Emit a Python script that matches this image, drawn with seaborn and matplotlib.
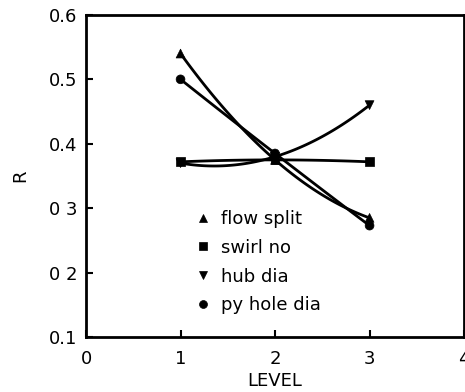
import matplotlib
matplotlib.use("Agg")
import matplotlib.pyplot as plt
import seaborn as sns
import pandas as pd

levels = [1, 2, 3]
flow_split = [0.540, 0.375, 0.285]
swirl_no = [0.372, 0.375, 0.372]
hub_dia = [0.370, 0.380, 0.460]
py_hole_dia = [0.500, 0.385, 0.273]

series_names = ["flow split", "swirl no", "hub dia", "py hole dia"]
series_values = [flow_split, swirl_no, hub_dia, py_hole_dia]
series_markers = ["^", "s", "v", "o"]

y_ticks = [0.1, 0.2, 0.3, 0.4, 0.5, 0.6]
y_tick_labels = ["0.1", "0 2", "0 3", "0.4", "0.5", "0.6"]
x_ticks = [0, 1, 2, 3, 4]

rows = []
for name, vals in zip(series_names, series_values):
    for lv, v in zip(levels, vals):
        rows.append({"LEVEL": lv, "R": v, "factor": name})
df = pd.DataFrame(rows)

sns.set_theme(style="ticks")
plt.rcParams["font.family"] = ["DejaVu Sans"]
plt.rcParams["text.color"] = "black"
plt.rcParams["axes.labelcolor"] = "black"

fig = plt.figure(figsize=(4.65, 3.92), dpi=100)
ax = fig.add_axes([0.185, 0.140, 0.813, 0.822])

# smooth quadratic curve through each factor's three levels
for name in series_names:
    sub = df[df["factor"] == name]
    sns.regplot(data=sub, x="LEVEL", y="R", order=2, ci=None, scatter=False,
                truncate=True, ax=ax,
                line_kws={"color": "black", "lw": 2.0})

sns.scatterplot(data=df, x="LEVEL", y="R", style="factor",
                markers=dict(zip(series_names, series_markers)),
                color="black", s=40, edgecolor="black", linewidth=0.5,
                ax=ax, zorder=5)

handles, labels = ax.get_legend_handles_labels()
leg = ax.legend(handles, labels, loc="upper left",
                bbox_to_anchor=(0.23, 0.445), frameon=False,
                prop={"size": 13}, handletextpad=0.25, labelspacing=0.6,
                markerscale=0.9, handlelength=1.5)
for t in leg.get_texts():
    t.set_color("black")

ax.set_xlim(0, 4)
ax.set_ylim(0.1, 0.6)
ax.set_xticks(x_ticks)
ax.set_xticklabels([str(t) for t in x_ticks])
ax.set_yticks(y_ticks)
ax.set_yticklabels(y_tick_labels)
ax.tick_params(direction="in", length=5, width=1.5, labelsize=13,
               colors="black")
ax.tick_params(axis="x", pad=9)
ax.tick_params(axis="y", pad=6)
ax.set_xlabel("LEVEL", fontsize=13, labelpad=3)
ax.set_ylabel("R", fontsize=13, labelpad=14)
for sp in ax.spines.values():
    sp.set_visible(True)
    sp.set_linewidth(2)
    sp.set_color("black")
ax.grid(False)

fig.savefig("out.png", dpi=100, facecolor="white")
